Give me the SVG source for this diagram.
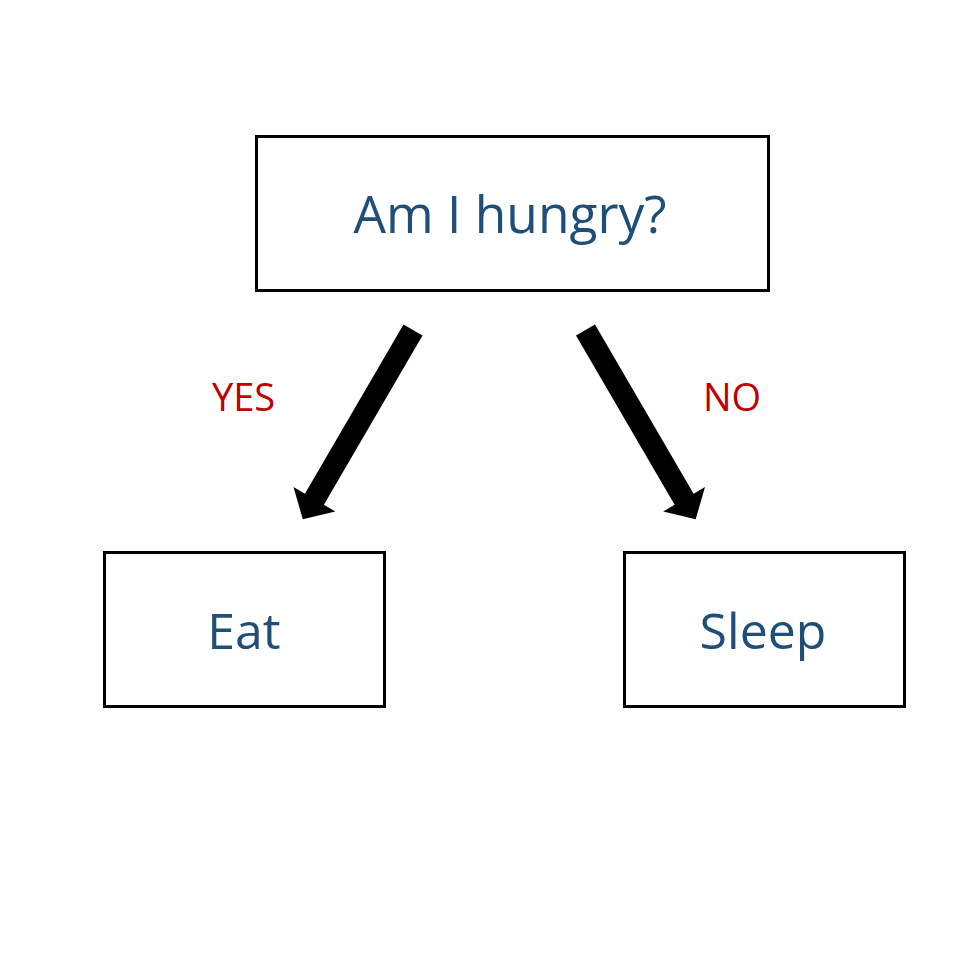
<svg xmlns="http://www.w3.org/2000/svg" width="960" height="960" viewBox="0 0 960 960">
<style>
.box{fill:#fff;stroke:#000;stroke-width:3}
.t{font-family:"Open Sans","Noto Sans",sans-serif;font-size:50px;fill:#1F4E79;text-anchor:middle}
.big{font-size:51.5px}
.lbl{font-family:"Open Sans","Noto Sans",sans-serif;font-size:38px;fill:#C00000;text-anchor:middle}
.arr{fill:#000}
</style>
<rect width="960" height="960" fill="#fff"/>
<g id="connectors">
<polygon class="arr" points="422.5,335.5 323.9,504.8 335.3,511.5 302.8,519.2 293.5,487.1 304.9,493.8 403.5,324.5"/>
<polygon class="arr" points="576,335.5 674.6,504.8 663.2,511.5 695.7,519.2 705,487.1 693.6,493.8 595,324.5"/>
<text class="lbl" x="243.5" y="411">YES</text>
<text class="lbl" x="732" y="411">NO</text>
</g>
<g id="node-hungry">
<rect class="box" x="256.5" y="136.5" width="512" height="154"/>
<text class="t big" x="510" y="233">Am I hungry?</text>
</g>
<g id="node-eat">
<rect class="box" x="104.5" y="552.5" width="280" height="154"/>
<text class="t" x="244" y="649">Eat</text>
</g>
<g id="node-sleep">
<rect class="box" x="624.5" y="552.5" width="280" height="154"/>
<text class="t" x="763" y="649">Sleep</text>
</g>
</svg>
